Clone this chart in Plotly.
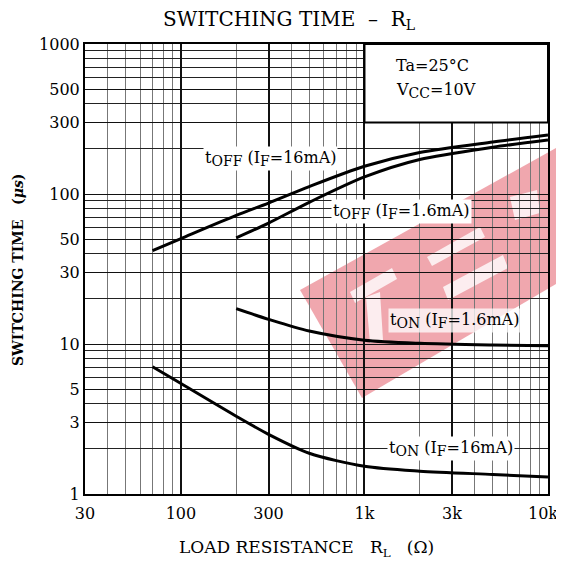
import math
import plotly.graph_objects as go

# ---------------- data ----------------
x_off16 = [70, 100, 200, 300, 500, 1000, 2000, 5000, 10000]
y_off16 = [42, 50.5, 72, 87, 112, 153, 189, 222, 247]

x_off16m = [200, 300, 500, 1000, 2000, 5000, 10000]
y_off16m = [51, 64, 88, 130, 170, 205, 229]

x_on16m = [200, 300, 500, 1000, 2000, 5000, 10000]
y_on16m = [17.2, 14.6, 12.2, 10.6, 10.1, 9.85, 9.75]

x_on16 = [70, 100, 200, 300, 500, 1000, 2000, 5000, 10000]
y_on16 = [7.05, 5.45, 3.3, 2.5, 1.87, 1.53, 1.42, 1.35, 1.30]

x_major = [30, 100, 300, 1000, 3000, 10000]
x_major_text = ["30", "100", "300", "1k", "3k", ""]
x_last_label = "10k"
x_minor = [40, 50, 60, 70, 80, 90, 200, 400, 500, 600, 700, 800, 900,
           2000, 4000, 5000, 6000, 7000, 8000, 9000]
y_major = [1, 3, 5, 10, 30, 50, 100, 300, 500, 1000]
y_major_text = ["1", "3", "5", "10", "30", "50", "100", "300", "500", "1000"]
y_minor = [2, 4, 6, 7, 8, 9, 20, 40, 60, 70, 80, 90, 200, 400, 600, 700, 800, 900]

XMIN, XMAX = 30, 10000
YMIN, YMAX = 1, 1000

FONT = "DejaVu Serif"

# page body has an 8px margin; figure is sized so it fills the 564x563 window
OFF = 8
WIN_W, WIN_H = 564, 563
FIG_W, FIG_H = WIN_W - OFF, WIN_H - OFF

fig = go.Figure()
for xs, ys in [(x_off16, y_off16), (x_off16m, y_off16m), (x_on16m, y_on16m), (x_on16, y_on16)]:
    fig.add_trace(go.Scatter(x=xs, y=ys, mode="lines",
                             line=dict(color="black", width=3, shape="spline", smoothing=0.8),
                             showlegend=False, hoverinfo="skip"))

# plot area in window pixels
L, R, T, B = 85, 548, 44, 494
def px(xp, yp):
    return ((xp - L) / (R - L), (B - yp) / (B - T))

def path(points):
    pts = [px(a, b) for a, b in points]
    return "M " + " L ".join(f"{a:.4f},{b:.4f}" for a, b in pts) + " Z"

shapes = []
# watermark band
shapes.append(dict(type="path", xref="paper", yref="paper",
                   path=path([(300, 290), (556, 148), (556, 284), (362, 398)]),
                   fillcolor="rgba(222,60,75,0.45)", line=dict(width=0), layer="between"))
for poly in [
    [(350, 292), (392, 268), (397, 279), (355, 303)],
    [(366, 297), (380, 292), (383, 340), (370, 343)],
    [(427, 257), (480, 227), (485, 237), (432, 266)],
    [(443, 287), (503, 255), (508, 268), (448, 300)],
    [(510, 197), (537, 190), (540, 213), (515, 220)],
]:
    shapes.append(dict(type="path", xref="paper", yref="paper", path=path(poly),
                       fillcolor="rgba(255,255,255,0.8)", line=dict(width=0), layer="between"))

# condition box (top-right, no grid)
lx0, lx1 = math.log10(XMIN), math.log10(XMAX)
bx0 = (math.log10(1000) - lx0) / (lx1 - lx0)
by0 = (math.log10(300) - math.log10(YMIN)) / (math.log10(YMAX) - math.log10(YMIN))
shapes.append(dict(type="rect", xref="paper", yref="paper", x0=bx0, x1=1, y0=by0, y1=1,
                   fillcolor="white", line=dict(color="black", width=2), layer="above"))

def sub(s):
    return f"<sub><span style='font-size:14px'>{s}</span></sub>"

def ann(xp, yp, text, size=16, xanchor="center", bg=None, **kw):
    x, y = px(xp, yp)
    d = dict(x=x, y=y, xref="paper", yref="paper", showarrow=False, xanchor=xanchor, yanchor="middle",
             text=text, font=dict(family=FONT, size=size, color="black"))
    if bg:
        d["bgcolor"] = bg
    d.update(kw)
    return d

annotations = [
    ann(270, 158, "t" + sub("OFF") + " (I" + sub("F") + "=16mA)", bg="white"),
    ann(401, 212, "t" + sub("OFF") + " (I" + sub("F") + "=1.6mA)", bg="white"),
    ann(454, 320, "t" + sub("ON") + " (I" + sub("F") + "=1.6mA)", bg="rgba(255,255,255,0.75)"),
    ann(451, 448, "t" + sub("ON") + " (I" + sub("F") + "=16mA)", bg="white"),
    ann(394, 66, "Ta=25°C", xanchor="left"),
    ann(394, 90, "V" + sub("CC") + "=10V", xanchor="left"),
    ann(560, 513, x_last_label, xanchor="right"),
    # axis titles
    ann(306, 548, "LOAD RESISTANCE   R<sub>L</sub>   (Ω)", size=17),
    ann(18, 270, "<b>SWITCHING TIME   (<i>μs</i>)</b>", size=14, textangle=-90),
]

fig.update_layout(
    width=FIG_W, height=FIG_H,
    margin=dict(l=L - OFF, r=WIN_W - R, t=T - OFF, b=WIN_H - B, autoexpand=False),
    paper_bgcolor="white", plot_bgcolor="white",
    title=dict(text="SWITCHING TIME  –  R<sub>L</sub>", x=(289 - OFF) / FIG_W, xanchor="center",
               y=1 - (19 - OFF) / FIG_H, yanchor="middle",
               font=dict(family=FONT, size=20, color="black"), automargin=False),
    shapes=shapes, annotations=annotations,
)
fig.update_xaxes(type="log", range=[lx0, lx1], tickmode="array", tickvals=x_major, ticktext=x_major_text,
                 showgrid=True, gridcolor="#111", gridwidth=1.6, ticks="", automargin=False,
                 ticklabelstandoff=4,
                 tickfont=dict(family=FONT, size=16, color="black"),
                 minor=dict(tickmode="array", tickvals=x_minor, showgrid=True, gridcolor="#777", gridwidth=1.3, ticks=""),
                 showline=True, linecolor="black", linewidth=2, mirror=True, zeroline=False)
fig.update_yaxes(type="log", range=[0, 3], tickmode="array", tickvals=y_major, ticktext=y_major_text,
                 showgrid=True, gridcolor="#111", gridwidth=1.4, ticks="", automargin=False,
                 tickfont=dict(family=FONT, size=16, color="black"),
                 minor=dict(tickmode="array", tickvals=y_minor, showgrid=True, gridcolor="#222", gridwidth=1.3, ticks=""),
                 showline=True, linecolor="black", linewidth=2, mirror=True, zeroline=False)

fig.write_html("out.html")
